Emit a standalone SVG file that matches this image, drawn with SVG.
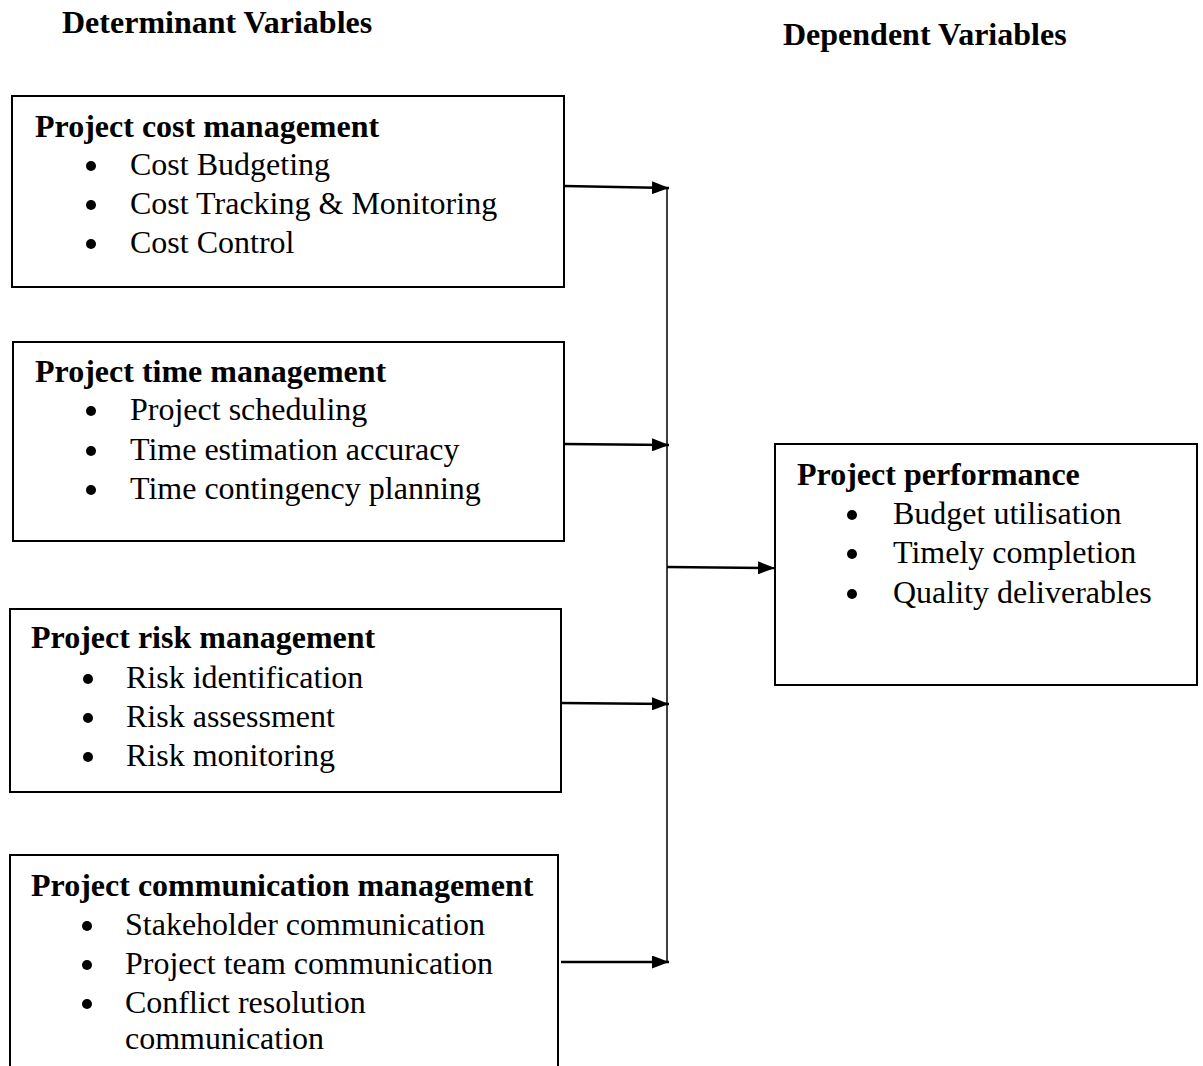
<svg xmlns="http://www.w3.org/2000/svg" width="1203" height="1066" viewBox="0 0 1203 1066">
<defs>
<marker id="ah" markerWidth="17" markerHeight="13" refX="17" refY="6.5" orient="auto" markerUnits="userSpaceOnUse">
<path d="M0,0 L17,6.5 L0,13 Z" fill="#000"/>
</marker>
<style>
text{font-family:"Liberation Serif","Times New Roman",serif;font-size:32px;fill:#000}
.h{font-weight:bold}
.dot{fill:#000}
.box{fill:#fff;stroke:#000;stroke-width:2}
.arr{stroke:#000;stroke-width:2.5;fill:none;marker-end:url(#ah)}
.trunk{stroke:#000;stroke-width:1.5;fill:none}
</style>
</defs>
<rect width="1203" height="1066" fill="#fff"/>
<text class="h" x="62" y="33">Determinant Variables</text>
<text class="h" x="783" y="45">Dependent Variables</text>

<g id="cost">
<rect class="box" x="12" y="96" width="552" height="191"/>
<text class="h" x="35" y="137">Project cost management</text>
<circle class="dot" cx="91" cy="166" r="5"/><text x="130" y="175">Cost Budgeting</text>
<circle class="dot" cx="91" cy="205" r="5"/><text x="130" y="214">Cost Tracking &amp; Monitoring</text>
<circle class="dot" cx="91" cy="244" r="5"/><text x="130" y="253">Cost Control</text>
</g>

<g id="time">
<rect class="box" x="13" y="342" width="551" height="199"/>
<text class="h" x="35" y="382">Project time management</text>
<circle class="dot" cx="91" cy="411" r="5"/><text x="130" y="420">Project scheduling</text>
<circle class="dot" cx="91" cy="451" r="5"/><text x="130" y="460">Time estimation accuracy</text>
<circle class="dot" cx="91" cy="490" r="5"/><text x="130" y="499">Time contingency planning</text>
</g>

<g id="risk">
<rect class="box" x="10" y="609" width="551" height="183"/>
<text class="h" x="31" y="648">Project risk management</text>
<circle class="dot" cx="88" cy="679" r="5"/><text x="126" y="688">Risk identification</text>
<circle class="dot" cx="88" cy="718" r="5"/><text x="126" y="727">Risk assessment</text>
<circle class="dot" cx="88" cy="757" r="5"/><text x="126" y="766">Risk monitoring</text>
</g>

<g id="comm">
<path d="M10,1070 V855 H558 V1070" fill="#fff" stroke="#000" stroke-width="2"/>
<text class="h" x="31" y="896">Project communication management</text>
<circle class="dot" cx="87" cy="926" r="5"/><text x="125" y="935">Stakeholder communication</text>
<circle class="dot" cx="87" cy="965" r="5"/><text x="125" y="974">Project team communication</text>
<circle class="dot" cx="87" cy="1004" r="5"/><text x="125" y="1013">Conflict resolution</text>
<text x="125" y="1049">communication</text>
</g>

<g id="performance">
<rect class="box" x="775" y="444" width="422" height="241"/>
<text class="h" x="797" y="485">Project performance</text>
<circle class="dot" cx="852" cy="515" r="5"/><text x="893" y="524">Budget utilisation</text>
<circle class="dot" cx="852" cy="554" r="5"/><text x="893" y="563">Timely completion</text>
<circle class="dot" cx="852" cy="594" r="5"/><text x="893" y="603">Quality deliverables</text>
</g>

<g id="connectors">
<line class="trunk" x1="667" y1="187" x2="667" y2="963"/>
<line class="arr" x1="564" y1="186" x2="669" y2="188"/>
<line class="arr" x1="564" y1="444" x2="669" y2="445"/>
<line class="arr" x1="561" y1="703" x2="669" y2="704"/>
<line class="arr" x1="561" y1="962" x2="669" y2="962"/>
<line class="arr" x1="667" y1="567" x2="775" y2="568"/>
</g>
</svg>
